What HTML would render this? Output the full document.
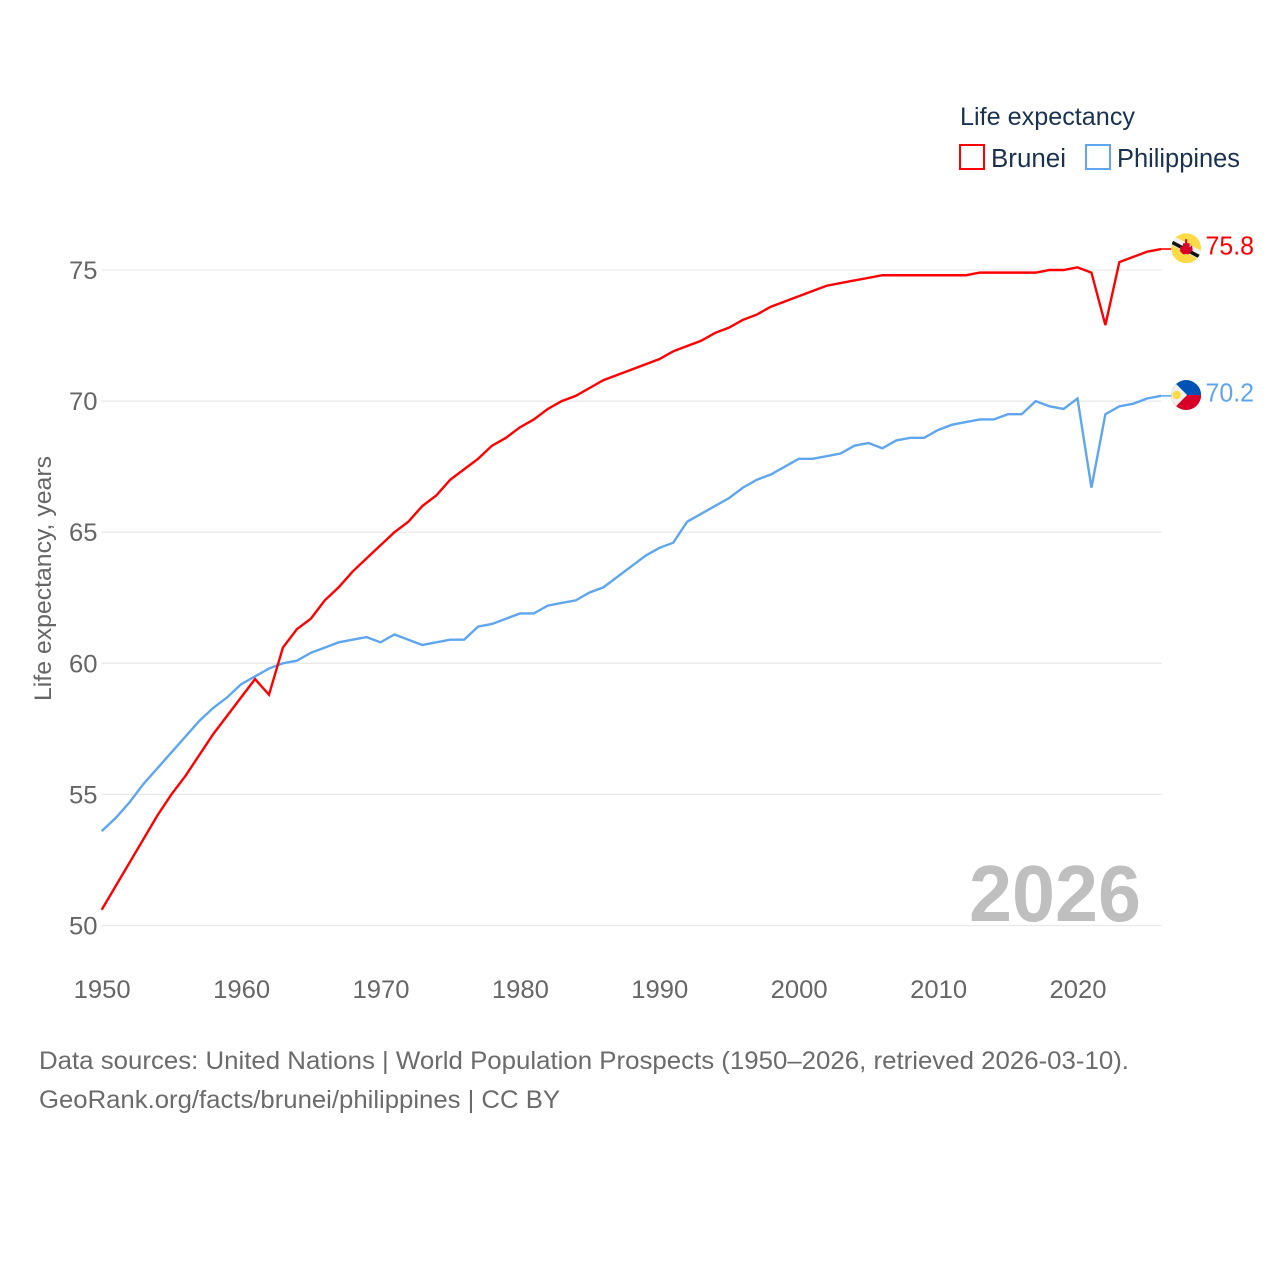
<!DOCTYPE html>
<html lang="en">
<head>
<meta charset="utf-8">
<title>Life expectancy: Brunei and Philippines</title>
<style>
html,body{margin:0;padding:0;background:#fff;width:1280px;height:1280px;overflow:hidden}
svg{display:block}
text{font-family:"Liberation Sans",sans-serif}
</style>
</head>
<body>
<svg id="chart" xmlns="http://www.w3.org/2000/svg" width="1280" height="1280" viewBox="0 0 1280 1280">
  <rect width="1280" height="1280" fill="#ffffff"/>
  <g id="grid"></g>
  <g id="yticks"></g>
  <g id="xticks"></g>
  <text x="969" y="921" font-size="80" font-weight="700" fill="#bfbfbf" textLength="172" lengthAdjust="spacingAndGlyphs">2026</text>
  <text transform="translate(51,701) rotate(-90)" font-size="24.5" fill="#666666" textLength="245" lengthAdjust="spacingAndGlyphs">Life expectancy, years</text>
  <g id="series"></g>
  <g id="flags">
    <defs>
      <clipPath id="clip-bn"><circle id="clip-bn-c" r="15"/></clipPath>
      <clipPath id="clip-ph"><circle id="clip-ph-c" r="15"/></clipPath>
    </defs>
    <g id="flag-bn">
      <g clip-path="url(#clip-bn)">
        <circle r="15" fill="#ffda44"/>
        <polygon points="-18,-15 18,4 18,14 -18,-5" fill="#f0f0f0"/>
        <polygon points="-18,-10 18,9 18,13 -18,-6" fill="#111111"/>
        <path d="M-1,-9 L1,-9 L1,-5 L3.5,-5 L3.5,-1 L6,-3 L6.5,2 L3,6 L-3,6 L-6,3 L-6,-2 L-3.5,-1 L-3,-5 L-1,-5 Z" fill="#d80027"/>
      </g>
    </g>
    <g id="flag-ph">
      <g clip-path="url(#clip-ph)">
        <rect x="-16" y="-16" width="32" height="16" fill="#0052b4"/>
        <rect x="-16" y="0" width="32" height="16" fill="#d80027"/>
        <polygon points="-16,-17 1,0 -16,17" fill="#f0f0f0"/>
        <circle cx="-9.5" cy="0" r="4.2" fill="#ffda44"/>
        <circle cx="-13" cy="-9" r="1.2" fill="#ffda44"/>
        <circle cx="-13" cy="9" r="1.2" fill="#ffda44"/>
      </g>
    </g>
  </g>
  <g id="end-labels"></g>
  <g>
    <text x="960" y="125" font-size="25" fill="#1a3150" textLength="175" lengthAdjust="spacingAndGlyphs">Life expectancy</text>
    <g>
      <rect x="960" y="145" width="24" height="24" fill="#ffffff" stroke="#ff0000" stroke-width="2"/>
      <text x="991" y="167" font-size="25.5" fill="#1a3150" textLength="75" lengthAdjust="spacingAndGlyphs">Brunei</text>
    </g>
    <g>
      <rect x="1086" y="145" width="24" height="24" fill="#ffffff" stroke="#5fa6ee" stroke-width="2"/>
      <text x="1117" y="167" font-size="25.5" fill="#1a3150" textLength="123" lengthAdjust="spacingAndGlyphs">Philippines</text>
    </g>
  </g>
  <text x="39" y="1069" font-size="25" fill="#6b6b6b" textLength="1090" lengthAdjust="spacingAndGlyphs">Data sources: United Nations | World Population Prospects (1950–2026, retrieved 2026-03-10).</text>
  <text x="39" y="1108" font-size="25" fill="#6b6b6b" textLength="521" lengthAdjust="spacingAndGlyphs">GeoRank.org/facts/brunei/philippines | CC BY</text>
</svg>
<script>
const firstYear = 1950;
const yTickValues = [50, 55, 60, 65, 70, 75];
const xTickValues = [1950, 1960, 1970, 1980, 1990, 2000, 2010, 2020];
const bruneiValues = [
  50.6, 51.5, 52.4, 53.3, 54.2, 55.0, 55.7, 56.5, 57.3, 58.0,
  58.7, 59.4, 58.8, 60.6, 61.3, 61.7, 62.4, 62.9, 63.5, 64.0,
  64.5, 65.0, 65.4, 66.0, 66.4, 67.0, 67.4, 67.8, 68.3, 68.6,
  69.0, 69.3, 69.7, 70.0, 70.2, 70.5, 70.8, 71.0, 71.2, 71.4,
  71.6, 71.9, 72.1, 72.3, 72.6, 72.8, 73.1, 73.3, 73.6, 73.8,
  74.0, 74.2, 74.4, 74.5, 74.6, 74.7, 74.8, 74.8, 74.8, 74.8,
  74.8, 74.8, 74.8, 74.9, 74.9, 74.9, 74.9, 74.9, 75.0, 75.0,
  75.1, 74.9, 72.9, 75.3, 75.5, 75.7, 75.8
];
const philippinesValues = [
  53.6, 54.1, 54.7, 55.4, 56.0, 56.6, 57.2, 57.8, 58.3, 58.7,
  59.2, 59.5, 59.8, 60.0, 60.1, 60.4, 60.6, 60.8, 60.9, 61.0,
  60.8, 61.1, 60.9, 60.7, 60.8, 60.9, 60.9, 61.4, 61.5, 61.7,
  61.9, 61.9, 62.2, 62.3, 62.4, 62.7, 62.9, 63.3, 63.7, 64.1,
  64.4, 64.6, 65.4, 65.7, 66.0, 66.3, 66.7, 67.0, 67.2, 67.5,
  67.8, 67.8, 67.9, 68.0, 68.3, 68.4, 68.2, 68.5, 68.6, 68.6,
  68.9, 69.1, 69.2, 69.3, 69.3, 69.5, 69.5, 70.0, 69.8, 69.7,
  70.1, 66.7, 69.5, 69.8, 69.9, 70.1, 70.2
];

const NS = 'http://www.w3.org/2000/svg';
function xScale(year) { return 101.7 + (year - 1950) * 13.94; }
function yScale(value) { return 925.5 - (value - 50) * 26.22; }
function make(tag, attrs, parent, txt) {
  const el = document.createElementNS(NS, tag);
  for (const k in attrs) el.setAttribute(k, attrs[k]);
  if (txt !== undefined) el.textContent = txt;
  parent.appendChild(el);
  return el;
}

const grid = document.getElementById('grid');
const yticks = document.getElementById('yticks');
const xticks = document.getElementById('xticks');
const series = document.getElementById('series');
const endLabels = document.getElementById('end-labels');

yTickValues.forEach(function (v) {
  const line = make('line', { x1: 101.7, x2: 1161.6, y1: yScale(v), y2: yScale(v), stroke: '#e9e9e9', 'stroke-width': 1.3 }, grid);
  
  
  const label = make('text', { x: 69, y: yScale(v) + 9, 'font-size': 25, fill: '#666666', textLength: 28.5, lengthAdjust: 'spacingAndGlyphs' }, yticks, String(v));
  
  
});

xTickValues.forEach(function (v) {
  const label = make('text', { x: xScale(v) - 28, y: 998, 'font-size': 25, fill: '#666666', textLength: 57, lengthAdjust: 'spacingAndGlyphs' }, xticks, String(v));
  
  
});

function linePath(values) {
  return values.map(function (v, i) {
    return (i ? 'L' : 'M') + xScale(firstYear + i).toFixed(2) + ' ' + yScale(v).toFixed(2);
  }).join(' ');
}
function drawSeries(values, color, flagId) {
  const lastYear = firstYear + values.length - 1;
  const last = values[values.length - 1];
  const px = xScale(lastYear);
  const py = yScale(last);
  const flagX = px + 25;
  const conn = make('line', { x1: px, x2: flagX - 15, y1: py, y2: py, stroke: color, 'stroke-width': 1.6 }, series);
  
  
  const path = make('path', { d: linePath(values), fill: 'none', stroke: color, 'stroke-width': 2.4, 'stroke-linejoin': 'miter' }, series);
  
  
  document.getElementById(flagId).setAttribute('transform', 'translate(' + flagX + ',' + (py - 0.8) + ')');
  const label = make('text', { x: 1205.5, y: py + 5.5, 'font-size': 25.5, fill: color, textLength: 48.5, lengthAdjust: 'spacingAndGlyphs' }, endLabels, last.toFixed(1));
  
  
}
drawSeries(philippinesValues, '#5fa6ee', 'flag-ph');
drawSeries(bruneiValues, '#ff0000', 'flag-bn');
</script>
</body>
</html>
